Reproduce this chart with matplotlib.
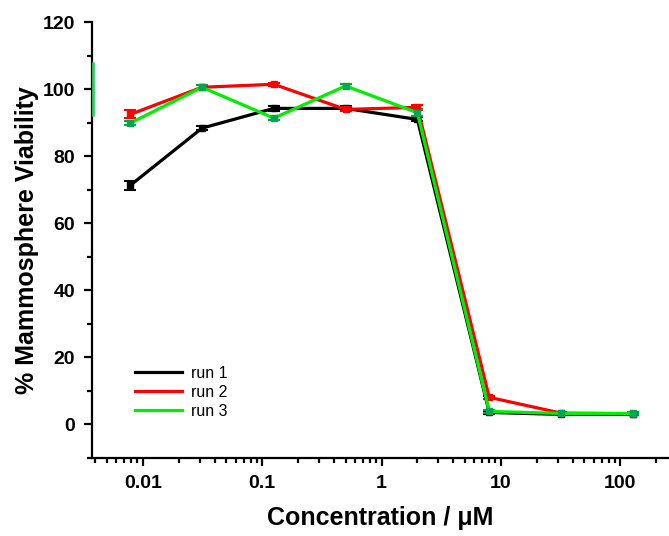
import matplotlib.pyplot as plt

# concentrations (uM), 4-fold dilutions
conc = [0.0078125, 0.03125, 0.125, 0.5, 2, 8, 32, 128]

run1 = [71.3, 88.4, 94.3, 94.3, 91.0, 3.6, 3.0, 3.0]
run1_err = [1.2, 0.6, 0.8, 0.6, 0.6, 0.4, 0.3, 0.3]
run2 = [92.5, 100.6, 101.5, 94.0, 94.6, 8.1, 3.4, 3.2]
run2_err = [1.2, 0.6, 0.5, 0.6, 0.8, 0.5, 0.3, 0.3]
run3 = [89.9, 100.6, 91.4, 101.0, 93.0, 3.9, 3.3, 3.3]
run3_err = [0.6, 0.6, 0.6, 0.6, 1.0, 0.4, 0.3, 0.3]

# stray green bar at the left border of the original plot
edge_val = 100
edge_err = 8

labels = ["run 1", "run 2", "run 3"]
line_colors = ["black", "#ff0000", "#00ee00"]
marker_colors = ["black", "#ff0000", "#00a651"]

plt.rcParams['font.family'] = ['Liberation Sans', 'DejaVu Sans']

fig = plt.figure(figsize=(6.69, 5.36), dpi=100)
ax = fig.add_axes([0.1375, 0.1455, 0.8625, 0.813])

series = [(run1, run1_err), (run2, run2_err), (run3, run3_err)]
for (vals, errs), lab, lc, mc in zip(series, labels, line_colors, marker_colors):
    ax.errorbar(conc, vals, yerr=errs, color=lc, lw=2.3, marker='s', ms=5,
                mfc=mc, mec=mc, ecolor=mc, elinewidth=1.5, capsize=4,
                capthick=1.5, label=lab)

ax.set_xscale('log')
ax.set_xlim(0.003742, 257)
ax.set_ylim(-10, 120)

x0 = ax.get_xlim()[0] * 1.01
ax.errorbar([x0], [edge_val], yerr=[edge_err], fmt='none', ecolor='#33cc66',
            elinewidth=2, capsize=0, clip_on=False, zorder=5)

ax.set_yticks(range(0, 121, 20))
ax.set_yticks(range(-10, 121, 10), minor=True)
ax.set_xticks([0.01, 0.1, 1, 10, 100])
ax.set_xticklabels(["0.01", "0.1", "1", "10", "100"])

for s in ['top', 'right']:
    ax.spines[s].set_visible(False)
for s in ['left', 'bottom']:
    ax.spines[s].set_linewidth(1.6)

ax.tick_params(which='major', length=6, width=1.6, labelsize=14, pad=6)
ax.tick_params(which='minor', length=3.5, width=1.6)
for t in ax.get_xticklabels() + ax.get_yticklabels():
    t.set_fontweight('bold')

ax.set_xlabel("Concentration / \u03bcM", fontsize=18, fontweight='bold', labelpad=10)
ax.set_ylabel("% Mammosphere Viability", fontsize=18, fontweight='bold', labelpad=3)

handles = [plt.Line2D([], [], color=c, lw=2.3) for c in line_colors]
ax.legend(handles, labels, loc='upper left', bbox_to_anchor=(0.05, 0.245),
          frameon=False, fontsize=11.5, handlelength=2.9, handletextpad=0.6,
          labelspacing=0.25)

plt.savefig("out.png", dpi=100)
plt.close()
